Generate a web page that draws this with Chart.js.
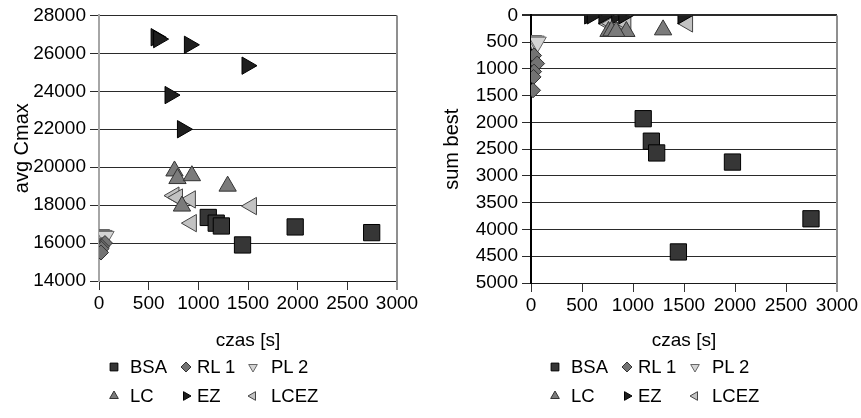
<!DOCTYPE html>
<html><head><meta charset="utf-8">
<script src="https://cdn.jsdelivr.net/npm/chart.js@4.4.0/dist/chart.umd.min.js"></script>
<style>
html,body{margin:0;padding:0;background:#fff;width:861px;height:418px;overflow:hidden;font-family:"Liberation Sans",Arial,sans-serif;}
.wrap{position:absolute;top:0;}
.leg{position:absolute;font-size:18.5px;color:#000;line-height:20px;white-space:nowrap;}
.mk{position:absolute;width:16px;height:16px;}
</style></head><body>
<div class="wrap" style="left:0;width:430px;height:360px"><canvas id="c1" width="430" height="360"></canvas></div>
<div class="wrap" style="left:430px;width:431px;height:360px"><canvas id="c2" width="431" height="360"></canvas></div>
<div id="legends"></div>
<script>
// ---- data ----
const seriesNames = ['BSA', 'RL 1', 'PL 2', 'LC', 'EZ', 'LCEZ'];
const xTicks = [0, 500, 1000, 1500, 2000, 2500, 3000];
const cmaxTicks = [14000, 16000, 18000, 20000, 22000, 24000, 26000, 28000];
const sumBestTicks = [0, 500, 1000, 1500, 2000, 2500, 3000, 3500, 4000, 4500, 5000];

// czas [s]
const timeBSA  = [1100, 1180, 1232, 1445, 1975, 2745];
const timeRL1  = [30, 60, 30, 25, 20];
const timePL2  = [20, 45, 65];
const timeLC   = [760, 790, 935, 1295, 835];
const timeEZ   = [575, 600, 715, 840, 910, 1490];
const timeLCEZ = [755, 790, 920, 930, 1535];

// avg Cmax
const cmaxBSA  = [17350, 17050, 16900, 15900, 16850, 16550];
const cmaxRL1  = [15900, 16000, 15800, 15700, 15500];
const cmaxPL2  = [16450, 16400, 16350];
const cmaxLC   = [19800, 19400, 19550, 19000, 17950];
const cmaxEZ   = [26850, 26750, 23800, 22000, 26450, 25350];
const cmaxLCEZ = [18500, 18400, 18300, 17050, 17950];

// sum best
const bestBSA  = [1930, 2350, 2570, 4420, 2740, 3800];
const bestRL1  = [750, 900, 1050, 1150, 1400];
const bestPL2  = [470, 480, 500];
const bestLC   = [300, 290, 300, 270, 300];
const bestEZ   = [0, 0, 0, 0, 0, 0];
const bestLCEZ = [150, 150, 180, 150, 150];

// ---- styles ----
const FONT = '"Liberation Sans", Arial, sans-serif';
const styles = [
  {pointStyle: 'rect', rotation: 0, radius: 11.5, bg: '#363636', bd: '#000000', lr: 5.5},
  {pointStyle: 'rectRot', rotation: 0, radius: 7.5, bg: '#737373', bd: '#333333', lr: 5},
  {pointStyle: 'triangle', rotation: 180, radius: 10, bg: '#d4d4d4', bd: '#666666', lr: 5},
  {pointStyle: 'triangle', rotation: 0, radius: 10, bg: '#7b7b7b', bd: '#333333', lr: 5},
  {pointStyle: 'triangle', rotation: 90, radius: 10, bg: '#1e1e1e', bd: '#000000', lr: 5},
  {pointStyle: 'triangle', rotation: 270, radius: 10, bg: '#c2c2c2', bd: '#444444', lr: 5}
];

const times = [timeBSA, timeRL1, timePL2, timeLC, timeEZ, timeLCEZ];
const cmax = [cmaxBSA, cmaxRL1, cmaxPL2, cmaxLC, cmaxEZ, cmaxLCEZ];
const best = [bestBSA, bestRL1, bestPL2, bestLC, bestEZ, bestLCEZ];

function makeDatasets(yArrays) {
  return seriesNames.map((name, s) => ({
    label: name,
    data: times[s].map((t, i) => ({x: t, y: yArrays[s][i]})),
    pointStyle: styles[s].pointStyle,
    rotation: styles[s].rotation,
    pointRadius: styles[s].radius,
    pointHoverRadius: styles[s].radius,
    backgroundColor: styles[s].bg,
    borderColor: styles[s].bd,
    borderWidth: 1,
    showLine: false
  }));
}

const rightBorder = {
  id: 'rightBorder',
  beforeDatasetsDraw(chart) {
    const {ctx, chartArea: a} = chart;
    ctx.save();
    ctx.strokeStyle = '#8f8f8f';
    ctx.lineWidth = 2;
    ctx.beginPath();
    ctx.moveTo(Math.round(a.right), a.top);
    ctx.lineTo(Math.round(a.right), a.bottom + 9);
    ctx.stroke();
    ctx.restore();
  }
};

const plain = v => String(v);

function makeChart(canvasId, yArrays, yTicks, yTitle, opts) {
  return new Chart(document.getElementById(canvasId), {
    type: 'scatter',
    data: {datasets: makeDatasets(yArrays)},
    plugins: [rightBorder],
    options: {
      responsive: false,
      animation: false,
      events: [],
      layout: {padding: {left: 0, right: opts.padRight, top: 15, bottom: 0}},
      plugins: {legend: {display: false}, tooltip: {enabled: false}},
      scales: {
        x: {
          type: 'linear',
          min: xTicks[0], max: xTicks[xTicks.length - 1],
          afterBuildTicks: sc => { sc.ticks = xTicks.map(v => ({value: v})); },
          afterFit: sc => { sc.height = 360 - opts.bottom; },
          ticks: {autoSkip: false, maxRotation: 0, padding: 2, color: '#000', font: {family: FONT, size: 19}, callback: plain},
          grid: {display: true, drawOnChartArea: false, drawTicks: true, tickLength: 9, tickColor: '#333', lineWidth: 1},
          border: {display: true, color: '#1a1a1a', width: 1},
          title: {display: true, text: 'czas [s]', color: '#000', font: {family: FONT, size: 19}, padding: {top: 0, bottom: 8}}
        },
        y: {
          type: 'linear',
          reverse: opts.reverse,
          min: Math.min(...yTicks), max: Math.max(...yTicks),
          afterBuildTicks: sc => { sc.ticks = yTicks.map(v => ({value: v})); },
          afterFit: sc => { sc.width = opts.left; },
          ticks: {padding: 4, color: '#000', font: {family: FONT, size: 19}, callback: plain},
          grid: {
            display: true, drawTicks: true, tickLength: 9,
            color: '#2a2a2a', tickColor: '#2a2a2a',
            lineWidth: ctx => (opts.reverse && ctx.tick && ctx.tick.value === 0) ? 2 : 1
          },
          border: {display: true, color: opts.yBorder, width: opts.yBorderWidth},
          title: {display: true, text: yTitle, color: '#000', font: {family: FONT, size: 20}, padding: {top: 10, bottom: 0}}
        }
      }
    }
  });
}

makeChart('c1', cmax, cmaxTicks, 'avg Cmax', {padRight: 33, bottom: 281, left: 99, reverse: false, yBorder: '#a6a6a6', yBorderWidth: 2});
makeChart('c2', best, sumBestTicks, 'sum best', {padRight: 24, bottom: 283, left: 101, reverse: true, yBorder: '#000000', yBorderWidth: 2});

// ---- legends (HTML) ----
const legendLayouts = [
  {markers: [114, 186, 253], texts: [130, 197, 271]},
  {markers: [555, 627, 695], texts: [571, 638, 712]}
];
const rowsY = [367, 396];
const legendRoot = document.getElementById('legends');
legendLayouts.forEach(lay => {
  seriesNames.forEach((name, s) => {
    const col = s % 3, row = Math.floor(s / 3);
    const cy = rowsY[row];
    const cv = document.createElement('canvas');
    cv.className = 'mk';
    cv.width = 16; cv.height = 16;
    cv.style.left = (lay.markers[col] - 8) + 'px';
    cv.style.top = (cy - 8) + 'px';
    const c = cv.getContext('2d');
    c.fillStyle = styles[s].bg;
    c.strokeStyle = styles[s].bd;
    c.lineWidth = 1;
    Chart.helpers.drawPoint(c, {pointStyle: styles[s].pointStyle, rotation: styles[s].rotation, radius: styles[s].lr, borderWidth: 1}, 8, 8);
    legendRoot.appendChild(cv);
    const t = document.createElement('div');
    t.className = 'leg';
    t.textContent = name;
    t.style.left = lay.texts[col] + 'px';
    t.style.top = (cy - 10) + 'px';
    legendRoot.appendChild(t);
  });
});
</script>
</body></html>
